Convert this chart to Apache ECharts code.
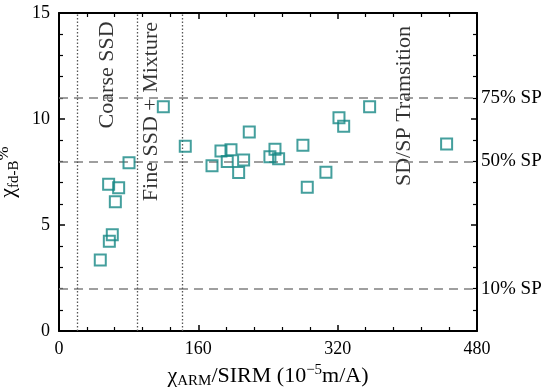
<!DOCTYPE html>
<html>
<head>
<meta charset="utf-8">
<script src="https://cdn.jsdelivr.net/npm/echarts@6/dist/echarts.min.js"></script>
<style>html,body{margin:0;padding:0;background:#fff}#c{width:550px;height:392px}</style>
</head>
<body>
<div id="c"></div>
<script>
// data
var xValues = [47.4, 57.8, 61.2, 57.0, 68.5, 64.7, 80.4, 119.8, 145.0, 175.7, 186.0, 193.2, 197.5, 206.3, 212.0, 218.5, 242.2, 248.0, 252.2, 280.1, 285.1, 306.5, 321.5, 326.9, 356.7, 445.1];
var yValues = [3.35, 4.23, 4.54, 6.92, 6.76, 6.10, 7.94, 10.58, 8.71, 7.80, 8.49, 7.99, 8.55, 7.48, 8.07, 9.39, 8.22, 8.57, 8.13, 8.76, 6.78, 7.49, 10.06, 9.66, 10.58, 8.82];
var spLevels = [2, 8, 11];
var spLabels = ['10% SP', '50% SP', '75% SP'];
var regionBounds = [21, 90, 141];
var annotX = [55, 105.5, 396];
var annotY = [12.08, 10.35, 10.61];
var annotText = ['Coarse SSD', 'Fine SSD + Mixture', 'SD/SP Tramsition'];
var xTicks = [0, 160, 320, 480];
var yTicks = [0, 5, 10, 15];

var FONT = 'Liberation Serif';
var teal = '#158785';

var points = xValues.map(function (x, i) { return [x, yValues[i]]; });
var annots = annotX.map(function (x, i) { return [x, annotY[i], annotText[i]]; });

var axisCommon = {
  axisLine: { show: true, onZero: false, lineStyle: { color: '#000', width: 2 } },
  axisTick: { show: true, inside: true, length: 6, lineStyle: { color: '#000', width: 1.5 } },
  minorTick: { show: true, splitNumber: 5, length: 4, lineStyle: { color: '#000', width: 1.2 } },
  splitLine: { show: false }
};

function ax(extra) { return Object.assign({}, JSON.parse(JSON.stringify(axisCommon)), extra); }

var richName = {
  n: { fontSize: 22, fontFamily: FONT, color: '#000', lineHeight: 26 },
  sub: { fontSize: 15, fontFamily: FONT, color: '#000', verticalAlign: 'bottom', lineHeight: 21 },
  sup: { fontSize: 15, fontFamily: FONT, color: '#000', verticalAlign: 'top', lineHeight: 21 },
  pc: { fontSize: 17, fontFamily: FONT, color: '#000', verticalAlign: 'top', lineHeight: 21 }
};

var chart = echarts.init(document.getElementById('c'), null, { renderer: 'canvas' });
chart.setOption({
  animation: false,
  backgroundColor: '#fff',
  textStyle: { fontFamily: FONT },
  grid: { left: 59, right: 73, top: 13, bottom: 61, containLabel: false, outerBoundsMode: 'none' },
  xAxis: [
    ax({
      type: 'value', min: xTicks[0], max: xTicks[xTicks.length - 1], interval: xTicks[1] - xTicks[0],
      position: 'bottom',
      axisLabel: { color: '#000', fontSize: 18, fontFamily: FONT, margin: 9 },
      name: '{n|χ}{sub|ARM}{n|/SIRM (10}{sup|−5}{n|m/A)}',
      nameLocation: 'middle', nameGap: 31,
      nameTextStyle: { color: '#000', fontFamily: FONT, rich: richName }
    }),
    ax({
      type: 'value', min: xTicks[0], max: xTicks[xTicks.length - 1], interval: xTicks[1] - xTicks[0],
      position: 'top', axisLabel: { show: false }
    })
  ],
  yAxis: [
    ax({
      type: 'value', min: yTicks[0], max: yTicks[yTicks.length - 1], interval: yTicks[1] - yTicks[0],
      position: 'left',
      axisLabel: { color: '#000', fontSize: 18, fontFamily: FONT, margin: 9 },
      name: '{n|χ}{sub|fd-B}{pc|%}',
      nameLocation: 'middle', nameGap: 32, nameRotate: 90,
      nameTextStyle: { color: '#000', fontFamily: FONT, rich: richName }
    }),
    ax({
      type: 'value', min: yTicks[0], max: yTicks[yTicks.length - 1], interval: yTicks[1] - yTicks[0],
      position: 'right', axisLabel: { show: false }
    })
  ],
  series: [
    {
      type: 'scatter',
      data: points,
      symbol: 'rect',
      symbolSize: 11,
      itemStyle: { color: 'rgba(255,255,255,0)', borderColor: teal, borderWidth: 2 },
      z: 5,
      markLine: {
        silent: true,
        symbol: ['none', 'none'],
        animation: false,
        data: spLevels.map(function (v, i) {
          return {
            yAxis: v,
            lineStyle: { type: [9, 6], color: '#808080', width: 1.5 },
            label: { show: true, position: 'end', formatter: spLabels[i], color: '#000', fontSize: 19, fontFamily: FONT, distance: 4 }
          };
        }).concat(regionBounds.map(function (v) {
          return {
            xAxis: v,
            lineStyle: { type: [1.5, 2], color: '#555', width: 1.3 },
            label: { show: false }
          };
        }))
      }
    },
    {
      type: 'scatter',
      data: annots,
      symbolSize: 0,
      silent: true,
      z: 4,
      label: {
        show: true,
        position: 'inside',
        rotate: 90,
        align: 'center',
        verticalAlign: 'middle',
        formatter: function (p) { return p.data[2]; },
        color: '#000', fontSize: 22, fontFamily: FONT
      }
    }
  ]
});
</script>
</body>
</html>
